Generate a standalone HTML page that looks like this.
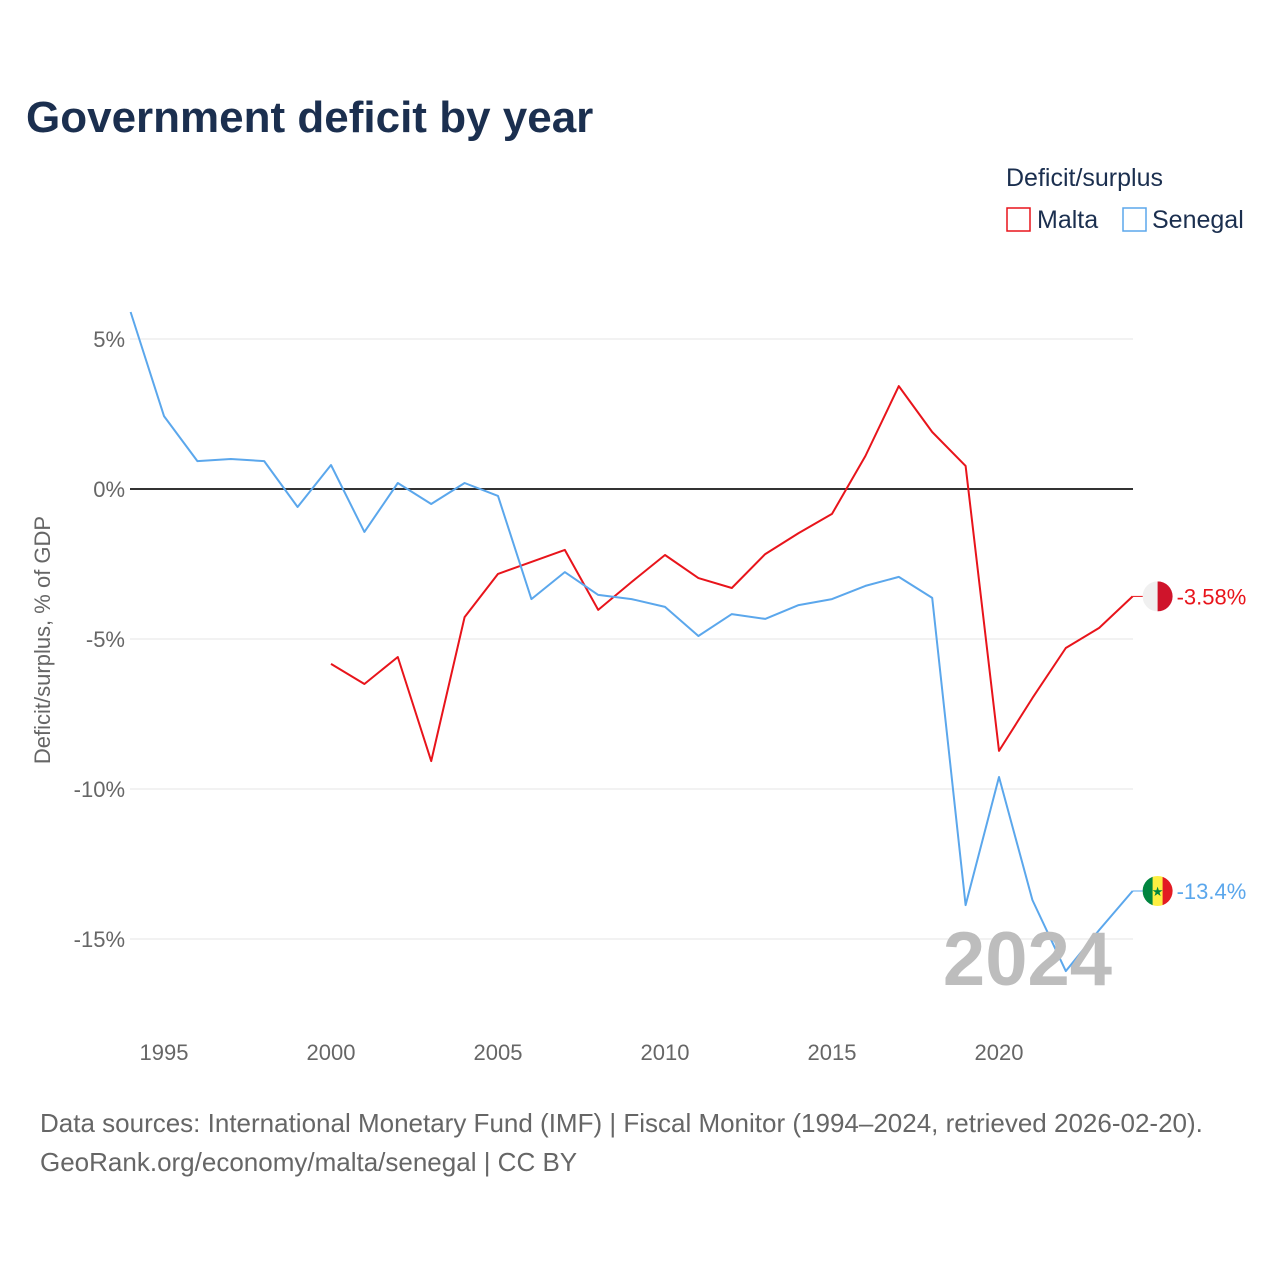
<!DOCTYPE html>
<html><head><meta charset="utf-8"><style>
body{margin:0;background:#fff;font-family:"Liberation Sans",sans-serif;}
</style></head><body>
<svg id="chart" width="1280" height="1280" xmlns="http://www.w3.org/2000/svg" style="font-family:'Liberation Sans',sans-serif">
<defs>
<clipPath id="cm"><circle cx="0" cy="0" r="15"/></clipPath>
</defs>
<text x="26" y="132" font-size="44" font-weight="bold" fill="#1b2f4f">Government deficit by year</text>
<text x="1006" y="186" font-size="25" fill="#1b2f4f">Deficit/surplus</text>
<rect x="1007" y="208" width="23" height="23" fill="none" stroke="#e8141b" stroke-width="1.5"/>
<text x="1037" y="228" font-size="25" fill="#1b2f4f">Malta</text>
<rect x="1123" y="208" width="23" height="23" fill="none" stroke="#5ba7ec" stroke-width="1.5"/>
<text x="1152" y="228" font-size="25" fill="#1b2f4f">Senegal</text>
<text transform="translate(50,640) rotate(-90)" text-anchor="middle" font-size="22" fill="#666">Deficit/surplus, % of GDP</text>
<g id="grid"></g><g id="lines"></g>
<text x="1112" y="985" text-anchor="end" font-size="76" font-weight="bold" fill="#bdbdbd">2024</text>
<text x="40" y="1132" font-size="26" fill="#666">Data sources: International Monetary Fund (IMF) | Fiscal Monitor (1994–2024, retrieved 2026-02-20).</text>
<text x="40" y="1171" font-size="26" fill="#666">GeoRank.org/economy/malta/senegal | CC BY</text>
</svg>
<script>
const years=[1994,1995,1996,1997,1998,1999,2000,2001,2002,2003,2004,2005,2006,2007,2008,2009,2010,2011,2012,2013,2014,2015,2016,2017,2018,2019,2020,2021,2022,2023,2024];
const senegal=[5.9,2.43,0.93,1.0,0.93,-0.6,0.8,-1.43,0.2,-0.5,0.2,-0.23,-3.67,-2.77,-3.53,-3.67,-3.93,-4.9,-4.17,-4.33,-3.87,-3.67,-3.23,-2.93,-3.63,-13.87,-9.6,-13.7,-16.07,-14.7,-13.4];
const malta=[null,null,null,null,null,null,-5.83,-6.5,-5.6,-9.07,-4.27,-2.83,-2.43,-2.03,-4.03,-3.1,-2.2,-2.97,-3.3,-2.17,-1.47,-0.83,1.1,3.43,1.9,0.77,-8.73,-6.97,-5.3,-4.63,-3.58];
const yTicks=[5,0,-5,-10,-15];
const yTickLabels=["5%","0%","-5%","-10%","-15%"];
const xTicks=[1995,2000,2005,2010,2015,2020];
const NS="http://www.w3.org/2000/svg";
const xs=y=>164+(y-1995)*33.4;
const ys=v=>489-v*30;
function el(t,a,p){const e=document.createElementNS(NS,t);for(const k in a)e.setAttribute(k,a[k]);p.appendChild(e);return e;}
const grid=document.getElementById('grid'),lines=document.getElementById('lines');
yTicks.forEach((v,i)=>{
 const l=el('line',{x1:130,x2:1133,y1:ys(v),y2:ys(v),stroke:v===0?'#333':'#e6e6e6','stroke-width':v===0?2:1},grid);
 
 
 const t=el('text',{x:125,y:ys(v)+8,'text-anchor':'end','font-size':22,fill:'#666'},grid);t.textContent=yTickLabels[i];
 
 
});
xTicks.forEach(y=>{
 const t=el('text',{x:xs(y),y:1060,'text-anchor':'middle','font-size':22,fill:'#666'},grid);t.textContent=y;
 
 
});
function series(vals,color,name,label,flagColors){
 const pts=[];vals.forEach((v,i)=>{if(v!==null)pts.push(xs(years[i]).toFixed(1)+','+ys(v).toFixed(1));});
 const p=el('polyline',{points:pts.join(' '),fill:'none',stroke:color,'stroke-width':2,'stroke-linejoin':'round'},lines);
 
 
 const last=vals[vals.length-1],lx=xs(years[years.length-1]),ly=ys(last);
 el('line',{x1:lx,x2:lx+12,y1:ly,y2:ly,stroke:color,'stroke-width':1},lines);
 const g=el('g',{transform:'translate('+(lx+25)+','+ly+')','clip-path':'url(#cm)'},lines);
 
 
 const w=30/flagColors.length;
 flagColors.forEach((c,i)=>el('rect',{x:-15+i*w,y:-15,width:w+0.5,height:30,fill:c},g));
 if(name==='senegal')el('text',{x:0,y:5,'text-anchor':'middle','font-size':13,fill:'#00853f'},g).textContent='★';
 const t=el('text',{x:lx+44,y:ly+8,'font-size':22,fill:color},lines);t.textContent=label;
 
 
}
series(malta,'#e8141b','malta','-3.58%',['#f0f0f0','#cf142b']);
series(senegal,'#5ba7ec','senegal','-13.4%',['#00853f','#fdef42','#e31b23']);
</script>
</body></html>
